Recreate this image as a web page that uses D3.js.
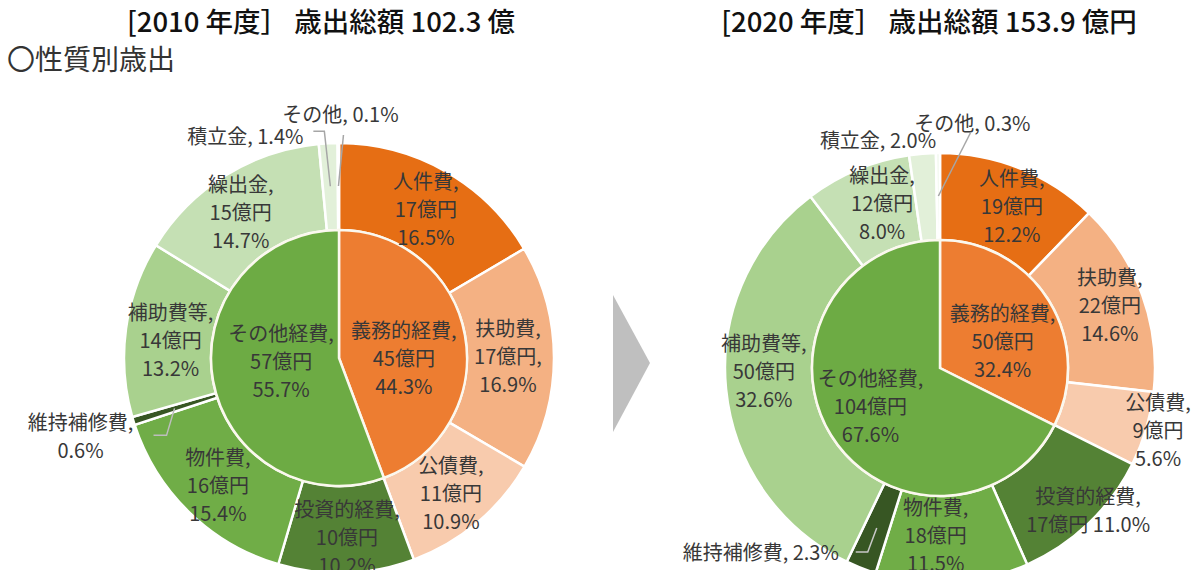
<!DOCTYPE html>
<html>
<head>
<meta charset="utf-8">
<script src="https://cdn.jsdelivr.net/npm/d3@7"></script>
<style>
  body { margin: 0; background: #fff; }
  svg text { font-family: "Noto Sans CJK JP", "Noto Sans", sans-serif; }
  .title { font-size: 27.5px; font-weight: 500; fill: #111; }
  .subtitle { font-size: 28px; fill: #333; }
  .lbl { font-size: 20px; fill: #383838; }
</style>
</head>
<body>
<div id="chart"></div>
<script>
// categories
const outerNames = ["人件費", "扶助費", "公債費", "投資的経費", "物件費", "維持補修費", "補助費等", "繰出金", "積立金", "その他"];
const innerNames = ["義務的経費", "その他経費"];

// 2010
const pct2010 = [16.5, 16.9, 10.9, 10.2, 15.4, 0.6, 13.2, 14.7, 1.4, 0.1];
const oku2010 = [17, 17, 11, 10, 16, null, 14, 15, null, null];
const innerPct2010 = [44.3, 55.7];
const innerOku2010 = [45, 57];

// 2020
const pct2020 = [12.2, 14.6, 5.6, 11.0, 11.5, 2.3, 32.6, 8.0, 2.0, 0.3];
const oku2020 = [19, 22, 9, 17, 18, null, 50, 12, null, null];
const innerPct2020 = [32.4, 67.6];
const innerOku2020 = [50, 104];

const titles = ["[2010 年度］ 歳出総額 102.3 億", "[2020 年度］ 歳出総額 153.9 億円"];
const subTitle = "〇性質別歳出";

// styles
const outerColors = ["#E66E14", "#F4B183", "#F8CBAD", "#548235", "#70AD47", "#375623", "#A9D18E", "#C5E0B4", "#E2F0D9", "#F2F8EE"];
const innerColors = ["#ED7D31", "#6DAB44"];

const width = 1198, height = 570;
const rIn = 128, rOut = 215, rLabel = 171, rInnerLabel = 70, lineH = 28;

// label placement tweaks (like the manual moves done in Excel)
const layouts = [
    {
        cx: 339, cy: 358, titleX: 321,
        nudge: [[2, -1], [-2, -2], [2, 4], [2, 8], [-2, 4], null, [1, 5], [-8, -1], null, null],
        innerNudge: [[-4, 12], [11, -10]],
        okuComma: [1],
        joinLast: [],
        external: {
            5: {dx: -94, dy: 27, split: true, leader: [[-8, 27], [-21, 27]], lc: "#bdbdbd"},
            8: {dx: -85, dy: -51, leader: [[-6, -55], [-17, -55]], lc: "#a6a6a6"},
            9: {dx: 2, dy: -73, leader: [[5, -51]], lc: "#a6a6a6"}
        }
    },
    {
        cx: 940, cy: 368, titleX: 929,
        nudge: [[8, -4], [9, -5], [54, 13], [30, 18], [-14, -4], null, [-6, -14], [8, -8], null, null],
        innerNudge: [[3, 9], [-10, 1]],
        okuComma: [],
        joinLast: [3],
        external: {
            5: {dx: -116, dy: 24, leader: [[-9, 24], [-21, 24]], lc: "#c8c8c8"},
            8: {dx: -48, dy: -57, leader: null},
            9: {dx: 34, dy: -74, leader: [[32, -63]], lc: "#a6a6a6"}
        }
    }
];

const svg = d3.select("#chart").append("svg")
    .attr("width", width)
    .attr("height", height);

// titles
titles.forEach((t, i) => {
    svg.append("text")
        .attr("class", "title")
        .attr("x", layouts[i].titleX)
        .attr("y", 32)
        .attr("text-anchor", "middle")
        .text(t);
});
svg.append("text")
    .attr("class", "subtitle")
    .attr("x", 7)
    .attr("y", 70)
    .text(subTitle);

// arrow between the two charts
svg.append("path")
    .attr("d", d3.line()([[613, 295], [650, 363], [613, 432]]) + "Z")
    .attr("fill", "#bfbfbf");

const pie = d3.pie().sort(null).value(d => d);
const arcOuter = d3.arc().innerRadius(rIn).outerRadius(rOut);
const arcInner = d3.arc().innerRadius(0).outerRadius(rIn);
const arcMid = d3.arc().innerRadius(rLabel).outerRadius(rLabel);
const arcMidIn = d3.arc().innerRadius(rInnerLabel).outerRadius(rInnerLabel);
const arcAnchor = d3.arc().innerRadius(172).outerRadius(172);

function multiText(g, x, y, lines) {
    let t = g.append("text")
        .attr("class", "lbl")
        .attr("text-anchor", "middle");
    lines.forEach((s, k) => {
        t.append("tspan")
            .attr("x", x)
            .attr("y", y + (k - (lines.length - 1) / 2) * lineH)
            .attr("dominant-baseline", "central")
            .text(s);
    });
}

function drawDonut(idx, pct, oku, innerPct, innerOku) {
    let lay = layouts[idx];
    let g = svg.append("g").attr("transform", `translate(${lay.cx},${lay.cy})`);

    let outerArcs = pie(pct);
    let innerArcs = pie(innerPct);

    g.selectAll(".outer").data(outerArcs).enter().append("path")
        .attr("class", "outer")
        .attr("d", arcOuter)
        .attr("fill", (d, i) => outerColors[i])
        .attr("stroke", "#fff")
        .attr("stroke-width", 2.5);

    g.selectAll(".inner").data(innerArcs).enter().append("path")
        .attr("class", "inner")
        .attr("d", arcInner)
        .attr("fill", (d, i) => innerColors[i])
        .attr("stroke", "#fbf8ee")
        .attr("stroke-width", 2.5);

    // ring labels
    outerArcs.forEach((d, i) => {
        let ext = lay.external[i];
        if (ext) {
            let a = arcAnchor.centroid(d);
            if (ext.leader) {
                let pts = [a].concat(ext.leader.map(p => [a[0] + p[0], a[1] + p[1]]));
                g.append("path")
                    .attr("d", d3.line()(pts))
                    .attr("fill", "none")
                    .attr("stroke", ext.lc)
                    .attr("stroke-width", 1.5);
            }
            let lines = ext.split
                ? [outerNames[i] + ",", pct[i].toFixed(1) + "%"]
                : [outerNames[i] + ", " + pct[i].toFixed(1) + "%"];
            multiText(g, a[0] + ext.dx, a[1] + ext.dy, lines);
            return;
        }
        let c = arcMid.centroid(d);
        let n = lay.nudge[i] || [0, 0];
        let okuLine = oku[i] + "億円" + (lay.okuComma.includes(i) ? "," : "");
        let lines = [outerNames[i] + ",", okuLine, pct[i].toFixed(1) + "%"];
        if (lay.joinLast.includes(i)) lines = [lines[0], lines[1] + " " + lines[2]];
        multiText(g, c[0] + n[0], c[1] + n[1], lines);
    });

    // inner labels
    innerArcs.forEach((d, i) => {
        let c = arcMidIn.centroid(d);
        let n = lay.innerNudge[i];
        multiText(g, c[0] + n[0], c[1] + n[1],
            [innerNames[i] + ",", innerOku[i] + "億円", innerPct[i].toFixed(1) + "%"]);
    });
}

drawDonut(0, pct2010, oku2010, innerPct2010, innerOku2010);
drawDonut(1, pct2020, oku2020, innerPct2020, innerOku2020);
</script>
</body>
</html>
